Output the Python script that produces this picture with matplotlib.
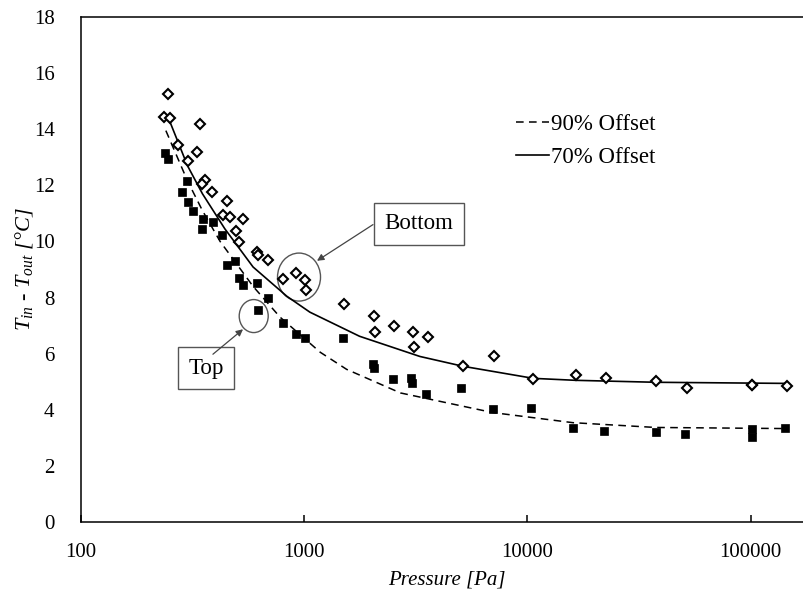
import matplotlib
matplotlib.use("Agg")
import matplotlib.pyplot as plt
import matplotlib.transforms as mtransforms
from matplotlib.patches import Ellipse
from matplotlib.ticker import NullLocator

plt.rcParams['font.family'] = ['Liberation Serif', 'DejaVu Serif']
plt.rcParams['mathtext.fontset'] = 'custom'
plt.rcParams['mathtext.rm'] = 'Liberation Serif'
plt.rcParams['mathtext.it'] = 'Liberation Serif:italic'

# 70% offset (bottom) measurements - open diamonds
p_bottom = [245, 235, 250, 341, 272, 331, 302, 359, 348, 386, 450, 432, 464, 531, 494, 510,
            615, 620, 689, 804, 920, 1010, 1020, 1500, 2045, 2070, 2517, 3065, 3095, 3580,
            5150, 7100, 10640, 16440, 22460, 37700, 52000, 101325, 101325, 145000]
t_bottom = [15.25, 14.45, 14.4, 14.2, 13.45, 13.2, 12.85, 12.2, 12.05, 11.75, 11.45, 10.95, 10.88,
            10.81, 10.38, 9.99, 9.63, 9.5, 9.34, 8.66, 8.88, 8.63, 8.27, 7.77, 7.34, 6.76, 6.98,
            6.76, 6.23, 6.59, 5.55, 5.91, 5.08, 5.23, 5.15, 5.01, 4.76, 4.87, 4.9, 4.83]

# 90% offset (top) measurements - filled squares
p_top = [238, 245, 284, 299, 302, 318, 352, 348, 390, 428, 450, 489, 510, 532, 615, 620, 688,
         802, 920, 1010, 1490, 2030, 2060, 2500, 3000, 3050, 3500, 5050, 7000, 10400,
         16000, 22000, 37500, 51000, 101325, 101325, 143000]
t_top = [13.15, 12.95, 11.75, 12.15, 11.4, 11.1, 10.8, 10.45, 10.7, 10.24, 9.16, 9.3, 8.7, 8.45,
         8.52, 7.55, 7.98, 7.09, 6.69, 6.55, 6.55, 5.62, 5.5, 5.1, 5.15, 4.94, 4.58, 4.76, 4.04,
         4.08, 3.36, 3.26, 3.22, 3.15, 3.33, 3.04, 3.36]

# fitted curves
p_fit70 = [245, 300, 350, 441, 590, 835, 1060, 1770, 3300, 5150, 10640, 16440, 37700, 145000]
t_fit70 = [14.45, 12.7, 11.7, 10.45, 9.09, 8.05, 7.48, 6.62, 5.9, 5.55, 5.12, 5.05, 4.98, 4.94]
p_fit90 = [240, 300, 350, 420, 590, 780, 1180, 1550, 2700, 7000, 16000, 37500, 145000]
t_fit90 = [13.95, 12.16, 11.1, 10.0, 8.4, 7.3, 6.05, 5.44, 4.6, 3.9, 3.54, 3.37, 3.33]

fig = plt.figure(figsize=(8.04, 5.94), dpi=100)
# axes placed in pixel terms; right side runs past the image edge (cropped like the original)
ax = fig.add_axes([81 / 804, 1 - 522 / 594, (812 - 81) / 804, (522 - 17) / 594])

ax.plot(p_fit90, t_fit90, color='black', lw=1.1, dashes=(5, 3.5), label='90% Offset', zorder=2)
ax.plot(p_fit70, t_fit70, color='black', lw=1.2, label='70% Offset', zorder=2)
ax.plot(p_bottom, t_bottom, ls='none', marker='D', ms=5, mfc='white', mec='black', mew=1.5, zorder=3)
ax.plot(p_top, t_top, ls='none', marker='s', ms=6, mfc='black', mec='black', mew=0.5, zorder=3)

ax.set_xscale('log')
ax.set_xlim(100, 10 ** (2 + 731 / 223.2))
ax.set_ylim(0, 18)
ax.set_xticks([100, 1000, 10000, 100000])
ax.set_xticklabels(['100', '1000', '10000', '100000'])
ax.xaxis.set_minor_locator(NullLocator())
ax.set_yticks(range(0, 19, 2))
ax.tick_params(axis='x', direction='in', length=5, width=1.1, pad=15, labelsize=15)
ax.tick_params(axis='y', length=0, pad=19, labelsize=15)
ax.spines['right'].set_visible(False)
for s in ['left', 'bottom', 'top']:
    ax.spines[s].set_linewidth(1.1)

ax.set_xlabel('Pressure [Pa]', fontsize=15, fontstyle='italic', labelpad=6)
ax.set_ylabel(r'$T_{in}$ - $T_{out}$ [°C]', fontsize=16, fontstyle='italic', labelpad=-1)

ax.legend(loc='upper left', bbox_to_anchor=(516 / 804, 1 - 114 / 594), bbox_transform=fig.transFigure,
          frameon=False, fontsize=16.5, handlelength=1.45, handletextpad=0.08, labelspacing=0.5,
          borderpad=0, borderaxespad=0)


# circles drawn in pixel size around a data location
def ring(p, t, w_px, h_px):
    tr = fig.dpi_scale_trans + mtransforms.ScaledTranslation(p, t, ax.transData)
    e = Ellipse((0, 0), w_px / 100, h_px / 100, transform=tr, fill=False, ec='#555555', lw=1.0)
    ax.add_artist(e)


ring(948, 8.73, 43, 48)
ring(594, 7.34, 29, 33)

box = dict(boxstyle='square,pad=0.45', fc='white', ec='#555555', lw=1.0)
ax.text(3268, 10.63, 'Bottom', fontsize=16.5, ha='center', va='center', bbox=box)
ax.text(363, 5.48, 'Top', fontsize=16.5, ha='center', va='center', bbox=box)
arrow = dict(arrowstyle='-|>', color='#444444', lw=0.9, mutation_scale=10, shrinkA=0, shrinkB=0)
ax.annotate('', xy=(1141, 9.31), xytext=(2033, 10.6), arrowprops=arrow)
ax.annotate('', xy=(532, 6.87), xytext=(390, 5.98), arrowprops=arrow)

fig.savefig('out.png', dpi=100)
